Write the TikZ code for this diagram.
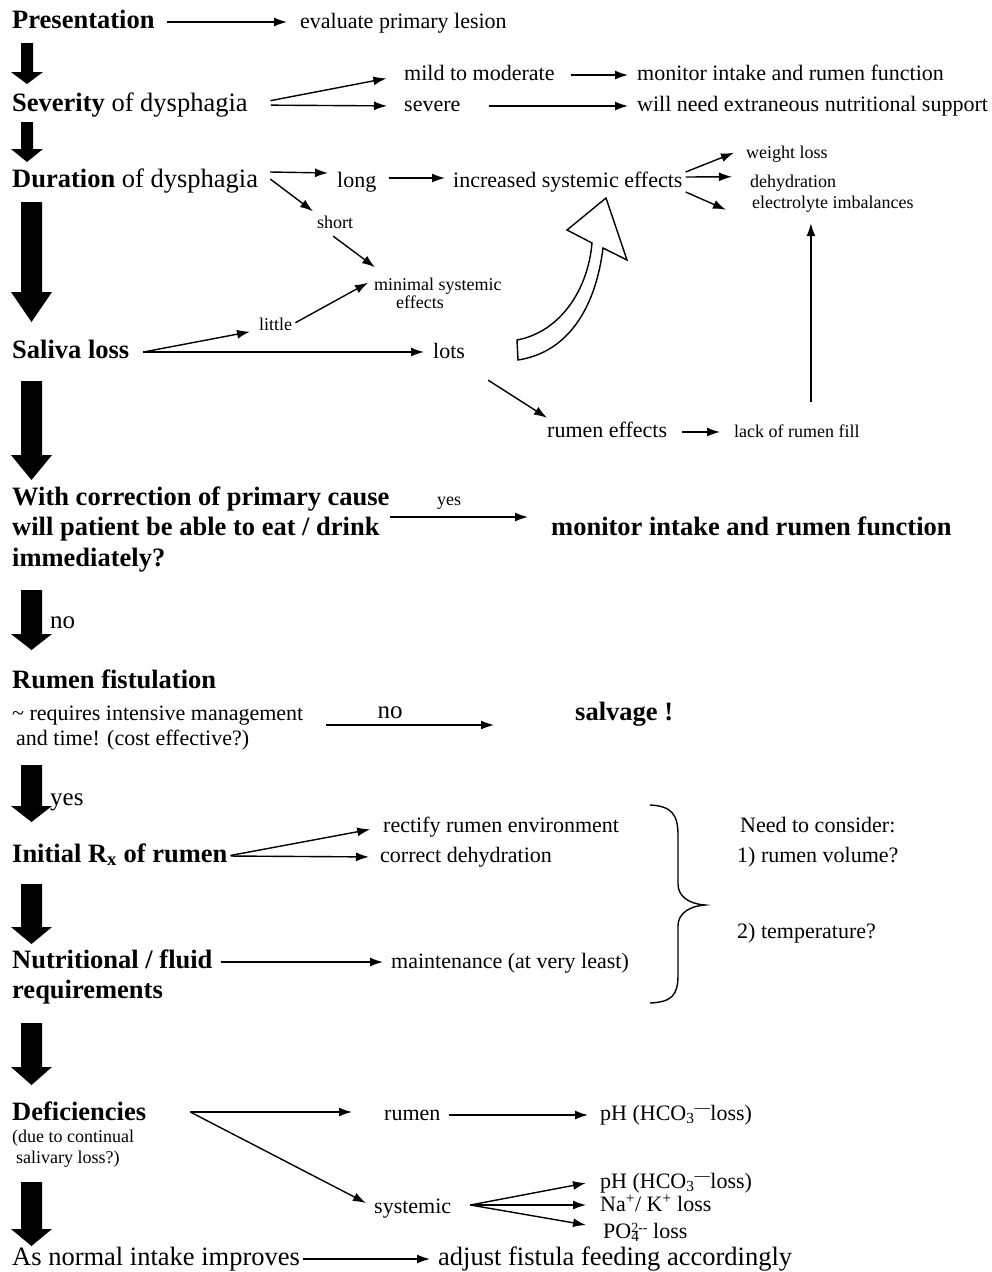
\documentclass[tikz,border=0pt]{standalone}
\usepackage{fontspec}
\setmainfont{Liberation Serif}
\usetikzlibrary{calc}
\usetikzlibrary{arrows.meta}
\tikzset{>={Latex[length=13pt,width=9pt]}}
\tikzset{stage/.style={inner sep=0pt, anchor=base west, text height=18pt, text depth=6pt, font=\fontsize{26.5}{30}\selectfont}}
\tikzset{result/.style={inner sep=0pt, anchor=base west, text height=15pt, text depth=5pt, font=\fontsize{22}{25}\selectfont}}
\tikzset{detail/.style={inner sep=0pt, anchor=base west, text height=12.5pt, text depth=4pt, font=\fontsize{18}{21}\selectfont}}
\tikzset{answer/.style={inner sep=0pt, anchor=base west, font=\fontsize{25}{28}\selectfont}}
\tikzset{flow/.style={->, line width=1.4pt}}

\begin{document}
\begin{tikzpicture}[x=1pt, y=-1pt]
    \useasboundingbox (0,0) rectangle (991,1272);

    % ------- Start Presentation / Severity ------- %
    \node [stage] (pres) at (12,28) {\textbf{Presentation}};
    \node [result] (eval) at (300,28) {evaluate primary lesion};
    \draw [flow, shorten <=12pt, shorten >=13pt] (pres.east) -- (pres.east -| eval.west);

    \node [stage] (sev) at (12,111) {\textbf{Severity} of dysphagia};
    \node [result] (mild) at (404,80) {mild to moderate};
    \node [result] (severe) at (404,111) {severe};
    \node [result] (monA) at (637,80) {monitor intake and rumen function};
    \node [result] (need) at (637,111) {will need extraneous nutritional support};
    \draw [flow, shorten <=23pt, shorten >=18pt] (sev.east) -- (mild.west);
    \draw [flow, shorten <=23pt, shorten >=17pt] (sev.east) -- (severe.west);
    \draw [flow, shorten <=16pt, shorten >=9pt] (mild.east) -- (mild.east -| monA.west);
    \draw [flow, shorten <=28pt, shorten >=9pt] (severe.east) -- (severe.east -| need.west);
    % ------- End Presentation / Severity ------- %

    % ------- Start Duration / Saliva ------- %
    \node [stage] (dur) at (12,187) {\textbf{Duration} of dysphagia};
    \node [result] (long) at (337,187) {long};
    \node [result] (inc) at (453,187) {increased systemic effects};
    \node [detail] (weight) at (746,158) {weight loss};
    \node [detail] (dehyd) at (750,187) {dehydration};
    \node [detail] (elec) at (752,208) {electrolyte imbalances};
    \node [detail] (short) at (317,228) {short};
    \node [detail] (minimal1) at (374,290) {minimal systemic};
    \node [detail] (minimal2) at (396,308) {effects};
    \node [detail] (little) at (259,330) {little};
    \node [stage] (saliva) at (12,358) {\textbf{Saliva loss}};
    \node [result] (lots) at (433,358) {lots};
    \node [result] (rumeff) at (547,437) {rumen effects};
    \node [detail] (lack) at (734,437) {lack of rumen fill};

    \draw [flow] ($(dur.east)+(12,-9)$) -- ($(long.west)+(-9,-9)$);
    \draw [flow] ($(long.east)+(12,-4)$) -- ($(inc.west)+(-8,-4)$);
    \draw [flow] ($(inc.east)+(3,-10)$) -- ($(weight.west)+(-12,-1)$);
    \draw [flow] ($(inc.east)+(3,-5)$) -- ($(dehyd.west)+(-18,-6)$);
    \draw [flow] ($(inc.east)+(3,10)$) -- ($(elec.west)+(-26,6)$);
    \draw [flow] ($(dur.east)+(12,-2)$) -- ($(short.north west)+(-4,-4)$);
    \draw [flow] ($(short.south)+(-2,4)$) -- ($(minimal1.north west)+(1,-10)$);
    \draw [flow] ($(little.east)+(3,-3)$) -- ($(minimal1.west)+(-6,-3)$);
    \draw [flow] ($(saliva.east)+(14,0)$) -- ($(little.west)+(-9,6)$);
    \draw [flow] ($(saliva.east)+(14,0)$) -- ($(lots.west)+(-9,-1)$);
    \draw [flow] ($(lots.south east)+(23,17)$) -- ($(rumeff.north west)+(0,-4)$);
    \draw [flow, shorten <=15pt, shorten >=14pt] (rumeff.east) -- (rumeff.east -| lack.west);

    % A line from the rumen fill up to the imbalances.
    \coordinate (lackup) at ($(lack.north)+(14,-22)$);
    \draw [flow, shorten >=11pt] (lackup) -- (lackup |- elec.south);

    % The hollow arrow from lots up to the systemic effects.
    \draw [line width=1.4pt, fill=white] (517,340) .. controls (560,332) and (588,290) .. (592,243)
        -- (567,230) -- (606,198) -- (627,260) -- (603,248)
        .. controls (596,305) and (570,352) .. (518,360) -- cycle;
    % ------- End Duration / Saliva ------- %

    % ------- Start Correction / Fistulation ------- %
    \node [stage] (with1) at (12,505) {\textbf{With correction of primary cause}};
    \node [stage] (with2) at ($(with1.base west)+(0,30.5)$) {\textbf{will patient be able to eat / drink}};
    \node [stage] (with3) at ($(with2.base west)+(0,30.5)$) {\textbf{immediately?}};
    \node [stage] (mon2) at (551,535) {\textbf{monitor intake and rumen function}};
    \draw [flow] ($(with1.east)+(0,18)$) -- ($(mon2.west)+(-23,-12)$)
        node [detail, anchor=base, pos=0.43, yshift=12pt] (yes1) {yes};

    \node [answer] (no1) at (50,628) {no};

    \node [stage] (fist) at (12,688) {\textbf{Rumen fistulation}};
    \node [result] (req1) at (12,720) {\textasciitilde{} requires intensive management};
    \node [result] (req2) at ($(req1.base west)+(4,25)$) {and time! (cost effective?)};
    \node [stage] (salvage) at (575,720) {\textbf{salvage !}};
    \draw [flow] ($(req1.east)+(23,10)$) -- ($(salvage.west)+(-81,11)$)
        node [answer, anchor=base, pos=0.38, yshift=7pt] (no2) {no};

    \node [answer] (yes2) at (50,805) {yes};
    % ------- End Correction / Fistulation ------- %

    % ------- Start Initial Rx / Nutrition ------- %
    \node [stage] (initial) at (12,862) {\textbf{Initial R\textsubscript{x} of rumen}};
    \node [result] (rectify) at (383,832) {rectify rumen environment};
    \node [result] (correct) at (380,862) {correct dehydration};
    \draw [flow, shorten <=3pt, shorten >=13pt] (initial.east) -- (rectify.west);
    \draw [flow, shorten <=3pt, shorten >=11pt] (initial.east) -- (correct.west);

    \node [stage] (nutr1) at (12,968) {\textbf{Nutritional / fluid}};
    \node [stage] (nutr2) at ($(nutr1.base west)+(0,30)$) {\textbf{requirements}};
    \node [result] (maint) at (391,968) {maintenance (at very least)};
    \draw [flow, shorten <=8pt, shorten >=8pt] (nutr1.east) -- (nutr1.east -| maint.west);

    % The brace round the Rx and the requirements.
    \draw [line width=1.4pt] (650,805) .. controls (672,806) and (678,815) .. (678,835)
        -- (678,884) .. controls (678,897) and (690,904) .. (705,905)
        .. controls (690,906) and (678,913) .. (678,926)
        -- (678,975) .. controls (678,995) and (672,1002) .. (650,1003);
    \node [result] (consider) at (740,832) {Need to consider:};
    \node [result] (volume) at (737,862) {1) rumen volume?};
    \node [result] (temp) at (737,938) {2) temperature?};
    % ------- End Initial Rx / Nutrition ------- %

    % ------- Start Deficiencies ------- %
    \node [stage] (def) at (12,1120) {\textbf{Deficiencies}};
    \node [detail] (due1) at (12,1142) {(due to continual};
    \node [detail] (due2) at ($(due1.base west)+(4,21)$) {salivary loss?)};
    \node [result] (rumen2) at (384,1120) {rumen};
    \node [result] (phA) at (600,1120) {pH (HCO\textsubscript{3}\textsuperscript{\textemdash}loss)};
    \node [result] (sys) at (374,1213) {systemic};
    \node [result] (phB) at (600,1188) {pH (HCO\textsubscript{3}\textsuperscript{\textemdash}loss)};
    \node [result] (na) at (600,1211) {Na\textsuperscript{+}/ K\textsuperscript{+} loss};
    \node [result] (po) at (603,1238) {PO\rlap{\textsubscript{4}}\raisebox{6pt}{\fontsize{14}{14}\selectfont 2-{}-} loss};

    \draw [flow] ($(def.east)+(44,-2)$) -- ($(rumen2.west)+(-32,-3)$);
    \draw [flow] ($(def.east)+(44,-2)$) -- ($(sys.west)+(-8,-5)$);
    \draw [flow, shorten <=8pt, shorten >=12pt] (rumen2.east) -- (rumen2.east -| phA.west);
    \draw [flow] ($(sys.east)+(19,-3)$) -- ($(phB.west)+(-14,0)$);
    \draw [flow] ($(sys.east)+(19,-3)$) -- ($(na.west)+(-14,-1)$);
    \draw [flow] ($(sys.east)+(19,-3)$) -- ($(po.west)+(-17,-8)$);

    \node [stage] (improve) at (12,1265) {As normal intake improves};
    \node [stage] (adjust) at (438,1265) {adjust fistula feeding accordingly};
    \draw [flow, shorten <=3pt, shorten >=8pt] (improve.east) -- (improve.east -| adjust.west);
    % ------- End Deficiencies ------- %

    % The big black arrows down the left side.
    \foreach \ya/\yb/\yc/\xc/\ws/\wh in {43/72/84/27/6/16, 122/149/162/27/6/16,
        202/292/322/31.5/10.5/20.5, 381/455/480/31.5/10.5/20.5,
        590/634/650/31.5/10.5/20.5, 765/806/822/31.5/10.5/20.5,
        884/927/944/31.5/10.5/20.5, 1023/1067/1085/31.5/10.5/20.5,
        1182/1229/1246/31.5/10.5/20.5}
        \fill (\xc-\ws,\ya) -- (\xc+\ws,\ya) -- (\xc+\ws,\yb) -- (\xc+\wh,\yb)
            -- (\xc,\yc) -- (\xc-\wh,\yb) -- (\xc-\ws,\yb) -- cycle;
\end{tikzpicture}
\end{document}
